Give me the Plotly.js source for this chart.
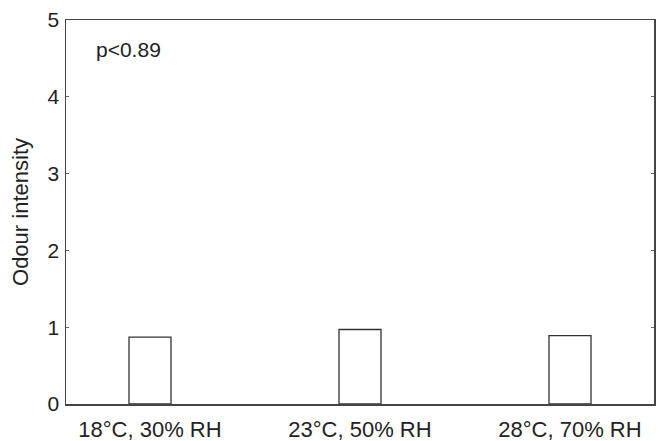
<!DOCTYPE html>
<html>
<head>
<meta charset="utf-8">
<script src="https://cdn.plot.ly/plotly-3.0.1.min.js"></script>
<style>html,body{margin:0;padding:0;background:#fff;}#chart{width:659px;height:441px;}</style>
</head>
<body>
<div id="chart"></div>
<script>
const categories = ["18°C, 30% RH", "23°C, 50% RH", "28°C, 70% RH"];
const odourIntensity = [0.87, 0.97, 0.89];
const yTickValues = [0, 1, 2, 3, 4, 5];
const pLabel = "p<0.89";

const font = "Liberation Sans, Arial, sans-serif";
const trace = {
  type: "bar",
  x: [0, 1, 2],
  y: odourIntensity,
  width: 0.2,
  marker: {color: "#ffffff", line: {color: "#333333", width: 1.3}},
  hoverinfo: "skip"
};
const layout = {
  width: 659, height: 441,
  margin: {l: 66, r: 5, t: 20, b: 37},
  paper_bgcolor: "#ffffff", plot_bgcolor: "#ffffff",
  showlegend: false,
  font: {family: font, color: "#222222", size: 21},
  xaxis: {
    range: [-0.4, 2.4],
    tickvals: [0, 1, 2],
    ticktext: categories,
    ticks: "",
    ticklabelstandoff: 5,
    showgrid: false, zeroline: false,
    showline: true, linecolor: "#444444", linewidth: 1.5, mirror: true,
    tickfont: {family: font, size: 22, color: "#222222"}
  },
  yaxis: {
    range: [0, 5],
    tickvals: yTickValues,
    ticks: "inside", ticklen: 3, tickcolor: "#666666",
    ticklabelstandoff: 1,
    showgrid: false, zeroline: false,
    showline: true, linecolor: "#444444", linewidth: 1.5, mirror: "ticks",
    tickfont: {family: font, size: 21, color: "#222222"},
    title: {text: "Odour intensity", font: {family: font, size: 22, color: "#222222"}, standoff: 13}
  },
  annotations: [{
    text: pLabel, xref: "paper", yref: "paper", x: 0.048, y: 0.922,
    xanchor: "left", yanchor: "middle", showarrow: false,
    font: {family: font, size: 21, color: "#222222"}
  }]
};
Plotly.newPlot("chart", [trace], layout, {displayModeBar: false, staticPlot: true});
</script>
</body>
</html>
